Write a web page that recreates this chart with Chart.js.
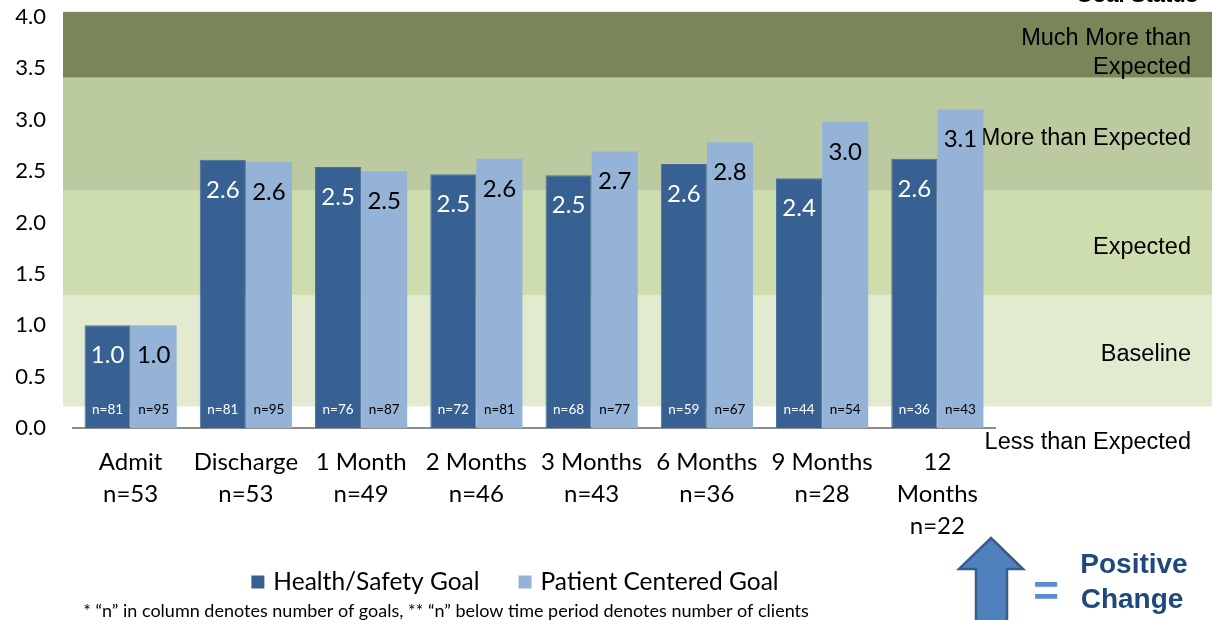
<!DOCTYPE html>
<html><head><meta charset="utf-8">
<script src="https://cdn.jsdelivr.net/npm/chart.js@4/dist/chart.umd.min.js"></script>
<style>html,body{margin:0;padding:0;background:#fff}#wrap{width:1212px;height:620px;position:relative}</style>
</head><body><div id="wrap"><canvas id="c" width="1212" height="620"></canvas></div>
<script>
const categories = [["Admit","n=53"],["Discharge","n=53"],["1 Month","n=49"],["2 Months","n=46"],["3 Months","n=43"],["6 Months","n=36"],["9 Months","n=28"],["12","Months","n=22"]];
const healthSafety = [1.0,2.61,2.54,2.47,2.46,2.57,2.43,2.62];
const patientCentered = [1.0,2.59,2.50,2.62,2.69,2.78,2.98,3.10];
const healthN = [81,81,76,72,68,59,44,36];
const patientN = [95,95,87,81,77,67,54,43];
const yTicks = [0,0.5,1,1.5,2,2.5,3,3.5,4];
const bandEdges = [0.21,1.29,2.31,3.41,4.05];
const bandNames = [["Baseline"],["Expected"],["More than Expected"],["Much More than","Expected"]];
const belowBandName = "Less than Expected";
const bandColors = ["#E2EBCF","#CEDDAE","#BCCA9F","#78865A"];
const seriesNames = ["Health/Safety Goal","Patient Centered Goal"];
const footnote = "* \u201cn\u201d in column denotes number of goals, ** \u201cn\u201d below time period denotes number of clients";

const DARK = "#376093", LIGHT = "#95B3D7";
const CAL = 'Lato, "Open Sans", sans-serif';
const ARIAL = '"Liberation Sans", Arial, sans-serif';

const bandPlugin = {
  id:'bands',
  beforeDraw(chart){
    const {ctx, chartArea:a, scales:{y}} = chart;
    ctx.save();
    const x0 = a.left - 10, x1 = chart.width;
    for (let i=0;i<bandColors.length;i++){
      const top = y.getPixelForValue(bandEdges[i+1]), bot = y.getPixelForValue(bandEdges[i]);
      ctx.fillStyle = bandColors[i];
      ctx.fillRect(x0, top, x1-x0, bot-top);
    }
    ctx.fillStyle = '#000';
    ctx.font = '23.5px ' + ARIAL;
    ctx.textAlign = 'right';
    ctx.textBaseline = 'middle';
    const xr = chart.width - 21;
    for (let i=0;i<bandNames.length;i++){
      const lines = bandNames[i];
      const mid = y.getPixelForValue((bandEdges[i]+bandEdges[i+1])/2) + (lines.length > 1 ? 8 : 4);
      const lh = 29;
      lines.forEach((t,k)=>ctx.fillText(t, xr, mid + (k-(lines.length-1)/2)*lh));
    }
    ctx.fillText(belowBandName, xr, y.getPixelForValue(0) + 15);
    ctx.font = 'bold 22px ' + ARIAL;
    ctx.textBaseline = 'alphabetic';
    ctx.fillText('Goal Status', chart.width - 14, 2);
    ctx.restore();
  }
};

const labelPlugin = {
  id:'vals',
  afterDatasetsDraw(chart){
    const {ctx} = chart;
    const nArr = [healthN, patientN];
    const colors = ['#fff','#000'];
    ctx.save();
    ctx.textAlign = 'center';
    ctx.textBaseline = 'middle';
    chart.data.datasets.forEach((ds,di)=>{
      const meta = chart.getDatasetMeta(di);
      meta.data.forEach((bar,i)=>{
        ctx.fillStyle = colors[di];
        ctx.font = '24px ' + CAL;
        ctx.fillText(ds.data[i].toFixed(1), bar.x, bar.y + 30);
        ctx.font = '13.5px ' + CAL;
        ctx.fillText('n=' + nArr[di][i], bar.x, bar.base - 18);
      });
    });
    ctx.restore();
  },
  afterDraw(chart){
    const {ctx} = chart;
    ctx.save();
    // legend
    ctx.font = '24.5px ' + CAL;
    ctx.textBaseline = 'middle';
    ctx.textAlign = 'left';
    const ds = chart.data.datasets;
    const box = 13, gap = 9, itemGap = 39, ly = 582;
    const widths = ds.map(d=>ctx.measureText(d.label).width);
    const total = widths.reduce((s,w)=>s+box+gap+w,0) + itemGap*(ds.length-1);
    let lx = 515 - total/2;
    ds.forEach((d,i)=>{
      ctx.fillStyle = d.backgroundColor;
      ctx.fillRect(lx, ly - box/2, box, box);
      ctx.fillStyle = '#000';
      ctx.fillText(d.label, lx + box + gap, ly);
      lx += box + gap + widths[i] + itemGap;
    });
    // footnote
    ctx.font = '18px ' + CAL;
    ctx.textAlign = 'center';
    ctx.fillText(footnote, 446, 611);
    // arrow
    ctx.beginPath();
    ctx.moveTo(991, 538);
    ctx.lineTo(1023, 569);
    ctx.lineTo(1007, 569);
    ctx.lineTo(1007, 630);
    ctx.lineTo(976, 630);
    ctx.lineTo(976, 569);
    ctx.lineTo(959, 569);
    ctx.closePath();
    ctx.fillStyle = '#4F81BD';
    ctx.fill();
    ctx.lineWidth = 2.5;
    ctx.strokeStyle = '#385D8A';
    ctx.stroke();
    ctx.fillStyle = '#558ED5';
    ctx.font = 'bold 44px ' + ARIAL;
    ctx.fillText('=', 1046, 594);
    ctx.fillStyle = '#1F497D';
    ctx.font = 'bold 28px ' + ARIAL;
    ctx.fillText('Positive', 1134, 565);
    ctx.fillText('Change', 1132, 600);
    ctx.restore();
  }
};

new Chart(document.getElementById('c'), {
  type:'bar',
  data:{
    labels: categories,
    datasets:[
      {label:seriesNames[0], data:healthSafety, backgroundColor:DARK, borderColor:'#4A6E9C', borderWidth:1},
      {label:seriesNames[1], data:patientCentered, backgroundColor:LIGHT, borderWidth:0}
    ]
  },
  options:{
    responsive:false,
    animation:false,
    devicePixelRatio:1,
    categoryPercentage:0.8,
    barPercentage:1.0,
    layout:{padding:{top:17,right:217,bottom:42,left:0}},
    scales:{
      x:{
        grid:{display:false, drawTicks:false},
        border:{display:true, color:'#8C8C8C', width:2},
        ticks:{font:{family:CAL, size:24, lineHeight:1.33}, color:'#000', padding:18, maxRotation:0, autoSkip:false},
        afterFit(s){ s.height = 150; }
      },
      y:{
        min:0, max:4,
        afterBuildTicks(s){ s.ticks = yTicks.map(v=>({value:v})); },
        grid:{display:false, drawTicks:false},
        border:{display:false},
        ticks:{font:{family:CAL, size:22}, color:'#000', padding:27, callback:v=>v.toFixed(1)},
        afterFit(s){ s.width = 73; s.paddingTop = 8; s.paddingBottom = 8; }
      }
    },
    plugins:{
      legend:{display:false},
      tooltip:{enabled:false}
    }
  },
  plugins:[bandPlugin, labelPlugin]
});
</script></body></html>
